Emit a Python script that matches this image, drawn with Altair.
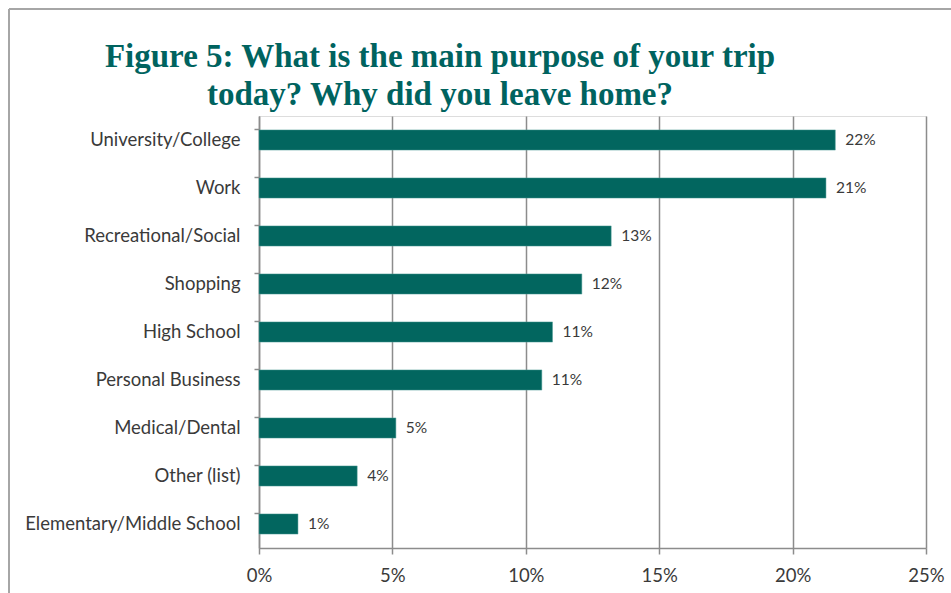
import altair as alt
import pandas as pd

categories = ["University/College", "Work", "Recreational/Social", "Shopping",
              "High School", "Personal Business", "Medical/Dental", "Other (list)",
              "Elementary/Middle School"]
values = [21.6, 21.25, 13.2, 12.1, 11.0, 10.6, 5.13, 3.68, 1.46]
x_ticks = [0, 5, 10, 15, 20, 25]
title_lines = ["Figure 5: What is the main purpose of your trip",
               "today? Why did you leave home?"]

df = pd.DataFrame({"purpose": categories, "pct": values})

TEAL = "#02665F"
GRAY = "#8C8C8C"
TXT = "#3a3a3a"
FONT = "Lato"

y_enc = alt.Y("purpose:N", sort=categories, title=None,
              scale=alt.Scale(paddingInner=0.58, paddingOuter=0.29),
              axis=alt.Axis(labelFont=FONT, labelFontSize=18.5, labelColor=TXT,
                            labelPadding=14, tickSize=5, tickColor=GRAY,
                            domainColor=GRAY, domainWidth=1.5, tickWidth=1.5,
                            bandPosition=0, grid=False, labelLimit=300))
x_enc = alt.X("pct:Q", title=None,
              scale=alt.Scale(domain=[0, 25], nice=False),
              axis=alt.Axis(values=x_ticks, labelExpr="datum.value + '%'",
                            labelFont=FONT, labelFontSize=18.5, labelColor=TXT,
                            labelFlush=False,
                            labelPadding=12, tickSize=6, tickColor=GRAY,
                            tickWidth=1.5, domainColor=GRAY, domainWidth=1.5,
                            grid=True, gridColor=GRAY, gridWidth=1.5))

base = alt.Chart(df).encode(y=y_enc, x=x_enc)

bars = base.mark_bar(color=TEAL, stroke="#4d9a95", strokeWidth=0.5)
labels = base.transform_calculate(
    lab="format(datum.pct, '.0f') + '%'"
).mark_text(align="left", baseline="middle", dx=10, font=FONT,
            fontSize=15.5, color=TXT).encode(text="lab:N")

border_df = pd.DataFrame({"k": [0]})
border_left = alt.Chart(border_df).mark_rule(color="#A6A6A6", strokeWidth=2).encode(
    x=alt.value(-250), y=alt.value(-107), y2=alt.value(600))
border_top = alt.Chart(border_df).mark_rule(color="#A6A6A6", strokeWidth=2).encode(
    x=alt.value(-250), x2=alt.value(720), y=alt.value(-107))

title_df = pd.DataFrame({"t": ["\n".join(title_lines)]})
title = alt.Chart(title_df).mark_text(
    font="Liberation Serif", fontSize=33, fontWeight="bold", color="#00635F",
    align="center", baseline="alphabetic", lineBreak="\n", lineHeight=38
).encode(text="t:N", x=alt.value(181), y=alt.value(-49))

chart = alt.layer(bars, labels, border_left, border_top, title).properties(
    width=667, height=432,
    padding={"left": 259, "top": 116, "right": 25, "bottom": 45},
    autosize=alt.AutoSizeParams(type="none"),
).configure_view(stroke=None).configure(background="white")

chart.save("out.html", embed_options={"renderer": "svg", "actions": False})
